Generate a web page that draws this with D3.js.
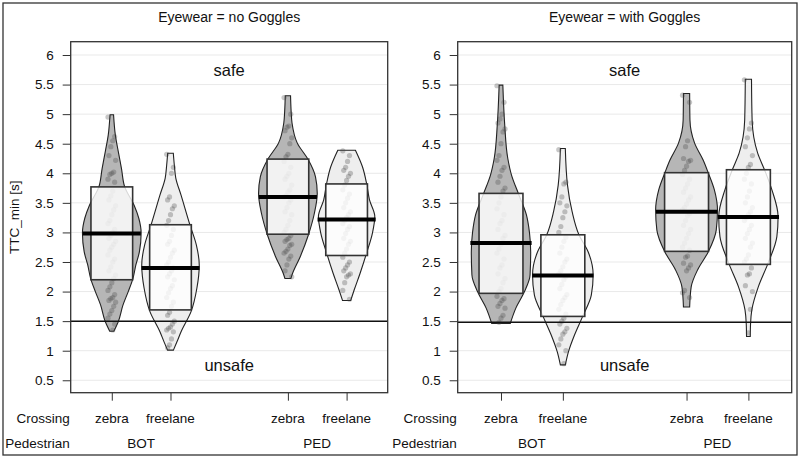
<!DOCTYPE html>
<html>
<head>
<meta charset="utf-8">
<script src="https://cdn.jsdelivr.net/npm/d3@7"></script>
<style>
  body { margin: 0; background: #fff; }
  text { font-family: "Liberation Sans", Arial, sans-serif; fill: #111; }
</style>
</head>
<body>
<div id="chartContainer"></div>
<script>
var panelTitles = ["Eyewear = no Goggles", "Eyewear = with Goggles"];
var crossingLabels = ["zebra", "freelane", "zebra", "freelane"];
var pedestrianLabels = ["BOT", "PED"];
var groupPositions = [1, 2, 4, 5];
var yTicks = [0.5, 1, 1.5, 2, 2.5, 3, 3.5, 4, 4.5, 5, 5.5, 6];
var thresholds = [1.5, 1.48];

var mediansNo = [2.98, 2.40, 3.60, 3.22];
var mediansWith = [2.82, 2.27, 3.35, 3.26];
var boxLowNo = [2.20, 1.69, 2.97, 2.61];
var boxHighNo = [3.77, 3.13, 4.24, 3.82];
var boxLowWith = [1.97, 1.58, 2.68, 2.46];
var boxHighWith = [3.66, 2.96, 4.01, 4.06];

// bean outlines: [TTC value, half width in group units]
var beansNo = [
  [[1.33,0.035],[1.49,0.11],[1.77,0.19],[2.0,0.28],[2.22,0.36],[2.45,0.41],[2.67,0.47],[2.99,0.5],[3.24,0.46],[3.46,0.38],[3.77,0.22],[4.08,0.165],[4.37,0.11],[4.65,0.06],[4.99,0.03]],
  [[1.01,0.05],[1.15,0.11],[1.32,0.18],[1.66,0.35],[2.06,0.45],[2.45,0.49],[2.79,0.44],[3.13,0.33],[3.63,0.18],[3.92,0.09],[4.14,0.065],[4.34,0.048]],
  [[2.22,0.05],[2.31,0.08],[2.59,0.21],[2.96,0.35],[3.32,0.45],[3.66,0.5],[3.94,0.47],[4.24,0.34],[4.51,0.16],[4.85,0.07],[5.05,0.055],[5.31,0.045]],
  [[1.85,0.07],[2.03,0.13],[2.31,0.23],[2.65,0.34],[2.99,0.44],[3.27,0.48],[3.55,0.39],[3.83,0.34],[4.11,0.27],[4.39,0.15]]
];
var beansWith = [
  [[1.46,0.15],[1.72,0.24],[2.0,0.38],[2.28,0.47],[2.67,0.48],[3.0,0.46],[3.3,0.41],[3.66,0.28],[3.97,0.17],[4.25,0.11],[4.82,0.06],[5.49,0.03]],
  [[0.76,0.04],[0.98,0.09],[1.27,0.19],[1.58,0.32],[1.94,0.46],[2.28,0.49],[2.67,0.41],[2.96,0.26],[3.35,0.15],[3.8,0.075],[4.42,0.04]],
  [[1.74,0.05],[2.08,0.075],[2.37,0.18],[2.67,0.35],[3.04,0.48],[3.38,0.5],[3.72,0.45],[4.01,0.35],[4.22,0.27],[4.51,0.13],[4.9,0.055],[5.35,0.05]],
  [[1.24,0.03],[1.46,0.035],[1.69,0.055],[2.08,0.16],[2.46,0.31],[2.93,0.46],[3.27,0.48],[3.72,0.38],[4.06,0.26],[4.34,0.15],[4.9,0.06],[5.59,0.05]]
];

var pointsNo = [
  [4.95,4.62,4.55,4.45,4.3,4.22,4.02,4.0,3.98,3.9,3.85,3.7,3.62,3.55,3.45,3.38,3.3,3.2,3.15,3.05,3.0,2.95,2.9,2.85,2.8,2.75,2.7,2.62,2.55,2.5,2.42,2.35,2.28,2.22,2.15,2.08,2.02,1.95,1.9,1.88,1.85,1.82,1.75,1.68,1.62,1.55,1.45,1.35],
  [4.32,4.1,4.0,3.6,3.55,3.45,3.4,3.3,3.2,3.12,3.05,2.95,2.85,2.8,2.7,2.65,2.58,2.5,2.45,2.4,2.35,2.3,2.25,2.2,2.1,2.05,1.98,1.9,1.82,1.75,1.65,1.6,1.5,1.45,1.4,1.38,1.35,1.32,1.2,1.1,1.05],
  [5.28,5.0,4.8,4.78,4.72,4.6,4.5,4.32,4.28,4.2,4.1,4.0,3.95,3.9,3.8,3.72,3.68,3.62,3.6,3.55,3.5,3.42,3.35,3.3,3.2,3.12,3.05,3.0,2.95,2.9,2.88,2.85,2.8,2.78,2.72,2.68,2.65,2.6,2.55,2.45,2.35,2.25],
  [4.38,4.3,4.2,4.1,4.05,4.0,3.95,3.88,3.8,3.72,3.65,3.58,3.5,3.42,3.35,3.3,3.25,3.2,3.15,3.1,3.05,2.98,2.9,2.85,2.8,2.72,2.65,2.58,2.5,2.45,2.4,2.35,2.3,2.28,2.25,2.15,2.02,1.87]
];
var pointsWith = [
  [5.48,5.2,5.0,4.92,4.85,4.75,4.7,4.5,4.3,4.22,4.1,4.05,3.95,3.85,3.75,3.7,3.6,3.5,3.4,3.3,3.2,3.15,3.05,2.95,2.9,2.8,2.72,2.65,2.55,2.45,2.4,2.3,2.22,2.15,2.05,2.0,1.92,1.88,1.85,1.8,1.75,1.72,1.6,1.55,1.48],
  [4.4,3.85,3.82,3.6,3.5,3.45,3.35,3.25,3.1,3.0,2.92,2.85,2.75,2.65,2.55,2.5,2.42,2.35,2.3,2.25,2.2,2.12,2.05,1.95,1.9,1.85,1.78,1.7,1.62,1.55,1.5,1.45,1.38,1.32,1.28,1.2,1.1,1.0,0.78],
  [5.32,5.2,4.55,4.45,4.25,4.22,4.2,4.12,4.05,3.98,3.9,3.82,3.75,3.68,3.6,3.55,3.48,3.42,3.38,3.32,3.28,3.2,3.12,3.05,2.98,2.9,2.82,2.75,2.7,2.6,2.58,2.48,2.45,2.4,2.35,2.02,1.98,1.9],
  [5.58,4.85,4.75,4.6,4.45,4.3,4.15,4.1,4.0,3.9,3.82,3.7,3.6,3.5,3.42,3.35,3.3,3.25,3.2,3.12,3.05,2.98,2.9,2.82,2.75,2.62,2.55,2.5,2.4,2.3,2.28,2.1,2.0,1.7,1.3]
];

var beanColors = ["#b6b6b6", "#eeeeee", "#b6b6b6", "#eeeeee"];

var svg = d3.select("#chartContainer")
  .append("svg")
  .attr("width", 800)
  .attr("height", 460);

svg.append("rect")
  .attr("x", 3).attr("y", 3)
  .attr("width", 794).attr("height", 452)
  .attr("fill", "none")
  .attr("stroke", "#333")
  .attr("stroke-width", 1.3);

var plotTop = 41.7, plotBottom = 392.7;
var panels = [
  { left: 70.7, right: 387.7, title: panelTitles[0], medians: mediansNo, lo: boxLowNo, hi: boxHighNo, beans: beansNo, points: pointsNo, threshold: thresholds[0] },
  { left: 457.7, right: 791.7, title: panelTitles[1], medians: mediansWith, lo: boxLowWith, hi: boxHighWith, beans: beansWith, points: pointsWith, threshold: thresholds[1] }
];

var y = d3.scaleLinear().domain([0.29, 6.225]).range([plotBottom, plotTop]);

panels.forEach(function(p, pi) {
  var x = d3.scaleLinear().domain([0.3, 5.7]).range([p.left, p.right]);
  var g = svg.append("g");

  // title
  g.append("text")
    .attr("x", (p.left + p.right) / 2)
    .attr("y", 22)
    .attr("text-anchor", "middle")
    .attr("font-size", "14px")
    .text(p.title);

  // grid
  g.selectAll(".grid")
    .data(yTicks)
    .enter()
    .append("line")
    .attr("x1", p.left).attr("x2", p.right)
    .attr("y1", function(d) { return y(d); })
    .attr("y2", function(d) { return y(d); })
    .attr("stroke", "#e9e9e9")
    .attr("stroke-width", 1);

  // y axis
  var yAxis = g.append("g")
    .attr("transform", "translate(" + p.left + ",0)")
    .call(d3.axisLeft(y).tickValues(yTicks).tickSize(8).tickPadding(9).tickFormat(d3.format("")));
  yAxis.select(".domain").remove();
  yAxis.selectAll("line").attr("stroke", "#333");
  yAxis.selectAll("text").attr("font-size", "13.5px").attr("fill", "#111")
    .attr("font-family", "Liberation Sans, Arial, sans-serif");

  // x axis ticks
  var xAxis = g.append("g")
    .attr("transform", "translate(0," + plotBottom + ")")
    .call(d3.axisBottom(x).tickValues(groupPositions).tickSize(8).tickFormat(""));
  xAxis.select(".domain").remove();
  xAxis.selectAll("line").attr("stroke", "#333");

  // crossing labels
  g.selectAll(".cross")
    .data(groupPositions)
    .enter()
    .append("text")
    .attr("x", function(d) { return x(d); })
    .attr("y", 423)
    .attr("text-anchor", "middle")
    .attr("font-size", "13.5px")
    .text(function(d, i) { return crossingLabels[i]; });

  g.selectAll(".ped")
    .data(pedestrianLabels)
    .enter()
    .append("text")
    .attr("x", function(d, i) { return x((groupPositions[i * 2] + groupPositions[i * 2 + 1]) / 2); })
    .attr("y", 448)
    .attr("text-anchor", "middle")
    .attr("font-size", "13.5px")
    .text(function(d) { return d; });

  g.append("text")
    .attr("x", p.left - 1).attr("y", 423)
    .attr("text-anchor", "end")
    .attr("font-size", "13.5px")
    .text("Crossing");
  g.append("text")
    .attr("x", p.left - 1).attr("y", 448)
    .attr("text-anchor", "end")
    .attr("font-size", "13.5px")
    .text("Pedestrian");

  // beans
  p.beans.forEach(function(bean, i) {
    var c = groupPositions[i];
    var area = d3.area()
      .curve(d3.curveMonotoneY)
      .y(function(d) { return y(d[0]); })
      .x0(function(d) { return x(c - d[1]); })
      .x1(function(d) { return x(c + d[1]); });
    g.append("path")
      .datum(bean)
      .attr("d", area)
      .attr("fill", beanColors[i])
      .attr("stroke", "#222")
      .attr("stroke-width", 1.1);
  });

  // points
  p.points.forEach(function(vals, i) {
    var c = groupPositions[i];
    g.selectAll(".pt" + i)
      .data(vals)
      .enter()
      .append("circle")
      .attr("cx", function(d, j) { return x(c + (((j * 7) % 9) - 4) / 4 * 0.065); })
      .attr("cy", function(d) { return y(d); })
      .attr("r", 2.6)
      .attr("fill", "#444")
      .attr("fill-opacity", 0.3);
  });

  // boxes
  g.selectAll(".box")
    .data(groupPositions)
    .enter()
    .append("rect")
    .attr("x", function(d) { return x(d - 0.355); })
    .attr("width", function(d) { return x(d + 0.355) - x(d - 0.355); })
    .attr("y", function(d, i) { return y(p.hi[i]); })
    .attr("height", function(d, i) { return y(p.lo[i]) - y(p.hi[i]); })
    .attr("fill", "#fff")
    .attr("fill-opacity", 0.82)
    .attr("stroke", "#333")
    .attr("stroke-width", 1.6);

  // medians
  g.selectAll(".med")
    .data(groupPositions)
    .enter()
    .append("line")
    .attr("x1", function(d) { return x(d - 0.495); })
    .attr("x2", function(d) { return x(d + 0.495); })
    .attr("y1", function(d, i) { return y(p.medians[i]); })
    .attr("y2", function(d, i) { return y(p.medians[i]); })
    .attr("stroke", "#000")
    .attr("stroke-width", 4);

  // threshold
  g.append("line")
    .attr("x1", p.left).attr("x2", p.right)
    .attr("y1", y(p.threshold)).attr("y2", y(p.threshold))
    .attr("stroke", "#111")
    .attr("stroke-width", 1.5);

  g.append("text")
    .attr("x", x(3)).attr("y", y(5.75))
    .attr("dy", "0.35em")
    .attr("text-anchor", "middle")
    .attr("font-size", "16.5px")
    .text("safe");
  g.append("text")
    .attr("x", x(3)).attr("y", y(0.75))
    .attr("dy", "0.35em")
    .attr("text-anchor", "middle")
    .attr("font-size", "16.5px")
    .text("unsafe");

  // frame
  g.append("rect")
    .attr("x", p.left).attr("y", plotTop)
    .attr("width", p.right - p.left).attr("height", plotBottom - plotTop)
    .attr("fill", "none")
    .attr("stroke", "#333")
    .attr("stroke-width", 1.3);
});

svg.append("text")
  .attr("transform", "translate(19," + ((plotTop + plotBottom) / 2) + ") rotate(-90)")
  .attr("text-anchor", "middle")
  .attr("font-size", "13.5px")
  .text("TTC_min [s]");
</script>
</body>
</html>
